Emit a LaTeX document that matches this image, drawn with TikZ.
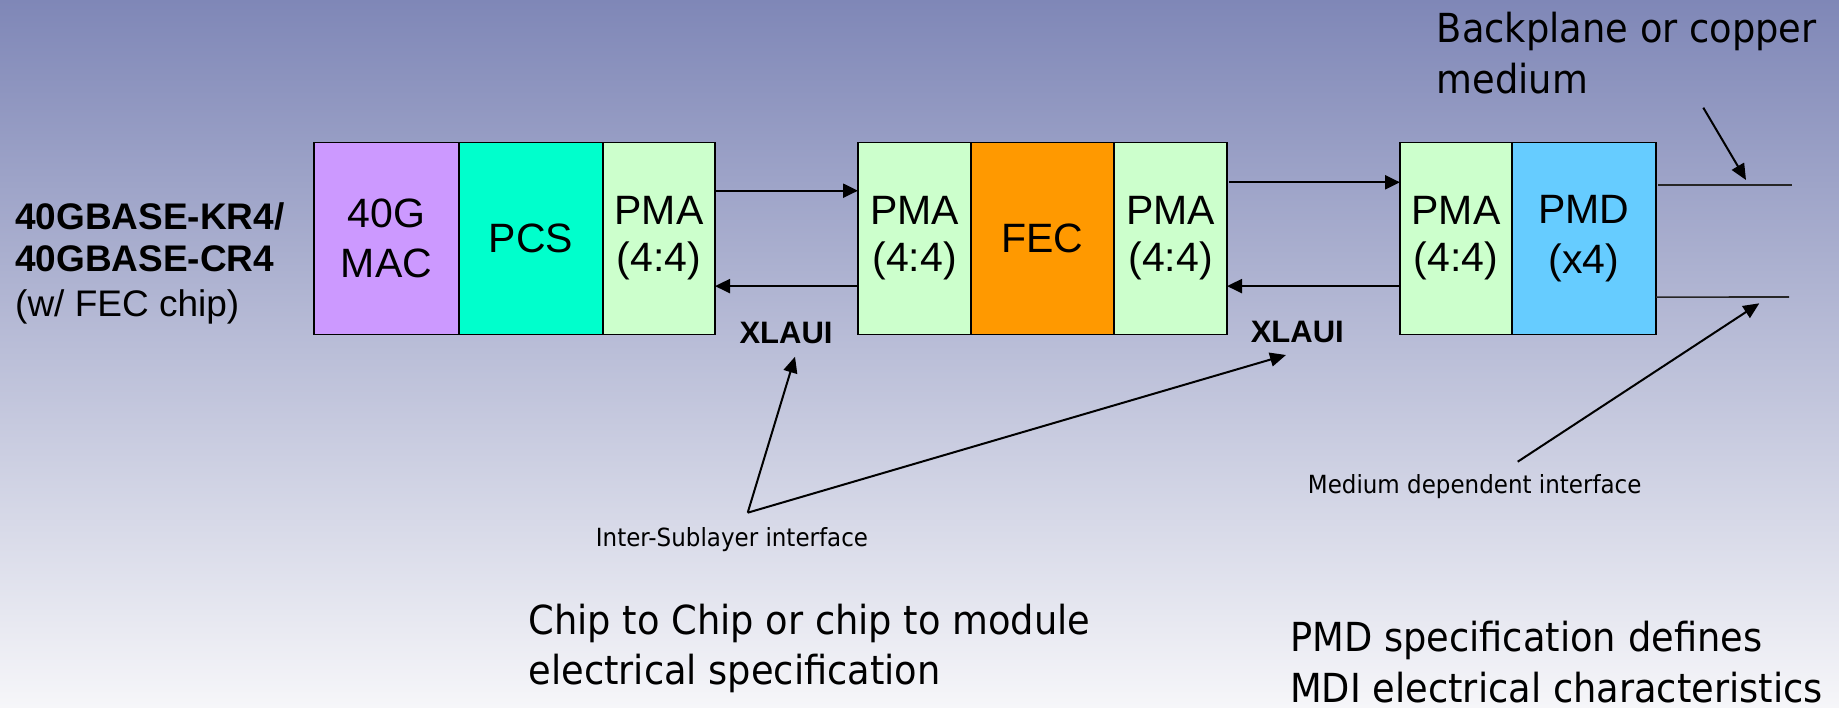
\documentclass[tikz,border=0pt]{standalone}
\usepackage{fontspec}
\setmainfont{Liberation Sans}
\newfontfamily\tahoma[FakeStretch=0.92]{DejaVu Sans}
\usetikzlibrary{arrows.meta}
\definecolor{bgtop}{RGB}{127,135,183}
\definecolor{bgbot}{RGB}{246,246,249}
\definecolor{macc}{RGB}{204,153,255}
\definecolor{pcsc}{RGB}{0,255,204}
\definecolor{pmac}{RGB}{204,255,204}
\definecolor{fecc}{RGB}{255,153,0}
\definecolor{pmdc}{RGB}{102,204,255}
\begin{document}
\begin{tikzpicture}[x=1pt,y=-1pt,
  layer/.style={draw=black, line width=1.5pt, minimum height=192pt, inner sep=0pt, outer sep=0pt,
    align=center, anchor=north west, font=\fontsize{41}{47}\selectfont},
  twoline/.style={font=\fontsize{41}{50}\selectfont},
  conn/.style={line width=2.2pt, -{Triangle[length=15pt,width=14pt]}},
  pointer/.style={line width=2pt, -{Triangle[length=16pt,width=14pt]}},
  medline/.style={line width=1.6pt, draw=black!85},
  bigtxt/.style={anchor=base west, inner sep=0pt, font=\tahoma\fontsize{40}{48}\selectfont},
  smalltxt/.style={anchor=base west, inner sep=0pt, font=\tahoma\fontsize{25}{30}\selectfont},
  lefttxt/.style={anchor=base west, inner sep=0pt, font=\fontsize{37}{43}\selectfont},
  xlaui/.style={anchor=base, inner sep=0pt, font=\bfseries\fontsize{31}{36}\selectfont}]
\useasboundingbox (0,0) rectangle (1839,707);
\shade[top color=bgtop, bottom color=bgbot] (0,0) rectangle (1839,707);

% left label
\node[lefttxt, font=\bfseries\fontsize{37}{43}\selectfont] (lblA) at (15,229) {40GBASE-KR4/};
\node[lefttxt, font=\bfseries\fontsize{37}{43}\selectfont] (lblB) at (15,271.7) {40GBASE-CR4};
\node[lefttxt] (lblC) at (15,316) {(w/ FEC chip)};

% block 1
\node[layer, twoline, fill=macc, minimum width=145pt] (mac) at (314,142.5) {40G\\MAC};
\node[layer, fill=pcsc, minimum width=144pt] (pcs) at (mac.north east) {PCS};
\node[layer, fill=pmac, minimum width=112pt] (pma1) at (pcs.north east) {PMA\\(4:4)};

% block 2
\node[layer, fill=pmac, minimum width=113pt] (pma2) at (858,142.5) {PMA\\(4:4)};
\node[layer, fill=fecc, minimum width=143pt] (fec) at (pma2.north east) {FEC};
\node[layer, fill=pmac, minimum width=113pt] (pma3) at (fec.north east) {PMA\\(4:4)};

% block 3
\node[layer, fill=pmac, minimum width=112pt] (pma4) at (1400,142.5) {PMA\\(4:4)};
\node[layer, twoline, fill=pmdc, minimum width=144pt] (pmd) at (pma4.north east) {PMD\\(x4)};

% interface arrows
\draw[conn] ([yshift=47.8pt]pma1.east) -- ([yshift=47.8pt]pma2.west);
\draw[conn] ([yshift=-47.6pt]pma2.west) -- ([yshift=-47.6pt]pma1.east);
\draw[conn] ([yshift=56.2pt,xshift=2pt]pma3.east) -- ([yshift=56.2pt]pma4.west);
\draw[conn] ([yshift=-47.6pt]pma4.west) -- ([yshift=-47.6pt]pma3.east);

% medium lines
\coordinate (mu) at (1791.7,185);
\coordinate (ml) at (1789,297);
\draw[medline] ([yshift=53.5pt,xshift=2pt]pmd.east) -- (mu);
\draw[medline] ([yshift=-58.6pt]pmd.east) -- (ml);

% XLAUI labels
\node[xlaui] (x1) at (786,343) {XLAUI};
\node[xlaui] (x2) at (1297.3,342) {XLAUI};

% text labels
\node[bigtxt] (bp1) at (1436.7,42.7) {Backplane or copper};
\node[bigtxt] (bp2) at (1436.7,93.3) {medium};
\node[smalltxt] (isl) at (595.7,546) {Inter-Sublayer interface};
\node[smalltxt] (mdi) at (1307.7,493.3) {Medium dependent interface};
\node[bigtxt] (chip1) at (528.3,634) {Chip to Chip or chip to module};
\node[bigtxt] (chip2) at (528.3,684.3) {electrical specification};
\node[bigtxt] (spec1) at (1290,651.7) {PMD specification defines};
\node[bigtxt] (spec2) at (1290,702) {MDI electrical characteristics};

% pointer arrows
\coordinate (bpS) at (1703.3,107.7);
\coordinate (bpT) at (1746,180);
\coordinate (islS) at (747.7,512.7);
\coordinate (x1T) at (795,356.7);
\coordinate (x2T) at (1286,355);
\coordinate (mdiS) at (1517.7,461.7);
\coordinate (mdiT) at (1759.3,303.3);
\draw[pointer] (bpS) -- (bpT);
\draw[pointer] (islS) -- (x1T);
\draw[pointer] (islS) -- (x2T);
\draw[pointer] (mdiS) -- (mdiT);
\end{tikzpicture}
\end{document}
